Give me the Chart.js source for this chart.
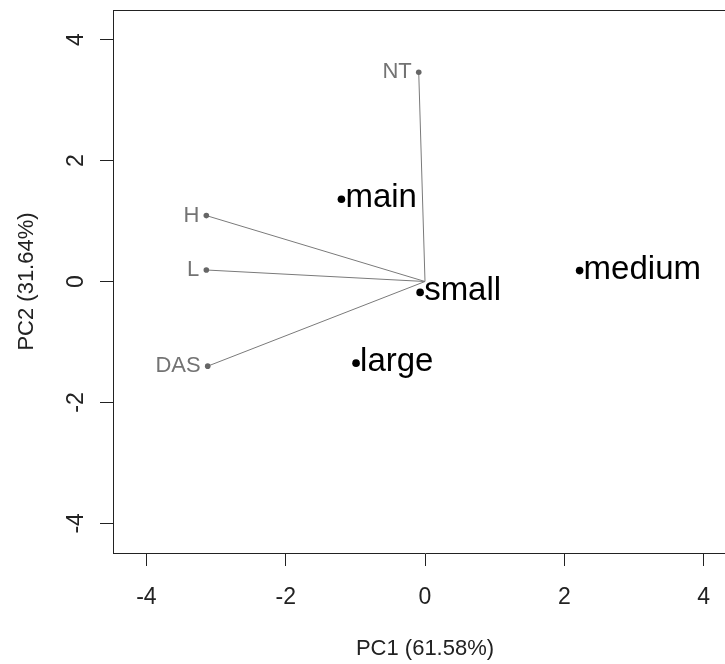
<!DOCTYPE html>
<html>
<head>
<meta charset="utf-8">
<title>PCA biplot</title>
<script src="https://cdn.jsdelivr.net/npm/chart.js@4/dist/chart.umd.min.js"></script>
<style>
  html, body { margin: 0; padding: 0; background: #fff; }
  #wrap { width: 725px; height: 664px; overflow: hidden; }
  #box { width: 760px; height: 664px; position: relative; }
</style>
</head>
<body>
<div id="wrap"><div id="box"><canvas id="biplot"></canvas></div></div>
<script>
// group scores
const groupNames = ['main', 'small', 'large', 'medium'];
const groupPC1 = [-1.20, -0.07, -0.99, 2.22];
const groupPC2 = [1.36, -0.18, -1.35, 0.18];

// variable loadings
const varNames = ['NT', 'H', 'L', 'DAS'];
const varPC1 = [-0.09, -3.14, -3.14, -3.12];
const varPC2 = [3.46, 1.09, 0.19, -1.40];

// axes
const xTicks = [-4, -2, 0, 2, 4];
const yTicks = [-4, -2, 0, 2, 4];
const xTitle = 'PC1 (61.58%)';
const yTitle = 'PC2 (31.64%)';

const FONT = '"Liberation Sans", Arial, sans-serif';
const AXIS = '#222';

// one line dataset per variable, from the origin to its loading
const arrowSets = varNames.map((name, i) => ({
    type: 'scatter',
    label: name + ' arrow',
    data: [{ x: 0, y: 0 }, { x: varPC1[i], y: varPC2[i] }],
    showLine: true,
    borderColor: '#7a7a7a',
    borderWidth: 1,
    pointRadius: 0,
    order: 3
}));

// draws the top edge of the box (R style frame)
const frame = {
    id: 'frame',
    afterDraw(chart) {
        const { ctx, chartArea: a } = chart;
        ctx.save();
        ctx.strokeStyle = AXIS;
        ctx.lineWidth = 1;
        ctx.beginPath();
        ctx.moveTo(a.left, a.top + 0.5);
        ctx.lineTo(a.right, a.top + 0.5);
        ctx.moveTo(a.right - 0.5, a.top);
        ctx.lineTo(a.right - 0.5, a.bottom);
        ctx.stroke();
        ctx.restore();
    }
};

// text labels next to the points
const pointLabels = {
    id: 'pointLabels',
    afterDatasetsDraw(chart) {
        const ctx = chart.ctx;
        ctx.save();
        ctx.textBaseline = 'middle';

        const groupMeta = chart.getDatasetMeta(0);
        ctx.font = '33px ' + FONT;
        ctx.fillStyle = '#000';
        ctx.textAlign = 'left';
        groupMeta.data.forEach((pt, i) => {
            ctx.fillText(groupNames[i], pt.x + 4, pt.y - 1);
        });

        const varMeta = chart.getDatasetMeta(1);
        ctx.font = '22px ' + FONT;
        ctx.fillStyle = '#737373';
        ctx.textAlign = 'right';
        varMeta.data.forEach((pt, i) => {
            ctx.fillText(varNames[i], pt.x - 7, pt.y);
        });
        ctx.restore();
    }
};

new Chart(document.getElementById('biplot'), {
    type: 'scatter',
    data: {
        datasets: [
            {
                label: 'groups',
                data: groupPC1.map((x, i) => ({ x: x, y: groupPC2[i] })),
                backgroundColor: '#000',
                borderWidth: 0,
                pointRadius: 3.8,
                order: 1
            },
            {
                label: 'variables',
                data: varPC1.map((x, i) => ({ x: x, y: varPC2[i] })),
                backgroundColor: '#666',
                borderWidth: 0,
                pointRadius: 2.8,
                order: 2
            },
            ...arrowSets
        ]
    },
    options: {
        responsive: true,
        maintainAspectRatio: false,
        animation: false,
        events: [],
        layout: { padding: { top: 10, right: 23, left: 0, bottom: 0 } },
        plugins: {
            legend: { display: false },
            tooltip: { enabled: false }
        },
        scales: {
            x: {
                type: 'linear',
                min: -4.48,
                max: 4.48,
                afterBuildTicks: scale => { scale.ticks = xTicks.map(v => ({ value: v })); },
                afterFit: scale => {
                    scale.height = 111;
                    scale.paddingLeft = 0;
                    scale.paddingRight = 0;
                },
                grid: { display: true, drawOnChartArea: false, drawTicks: true, tickLength: 13, color: AXIS },
                border: { display: true, color: AXIS, width: 1 },
                ticks: {
                    color: AXIS,
                    font: { family: FONT, size: 23 },
                    padding: 18,
                    maxRotation: 0,
                    callback: v => String(v)
                },
                title: {
                    display: true,
                    text: xTitle,
                    color: AXIS,
                    font: { family: FONT, size: 22 },
                    padding: { top: 0, bottom: 2 }
                }
            },
            y: {
                type: 'linear',
                min: -4.49,
                max: 4.49,
                afterBuildTicks: scale => { scale.ticks = yTicks.map(v => ({ value: v })); },
                afterFit: scale => {
                    scale.width = 113;
                    scale.paddingTop = 0;
                    scale.paddingBottom = 0;
                },
                grid: { display: true, drawOnChartArea: false, drawTicks: true, tickLength: 13, color: AXIS },
                border: { display: true, color: AXIS, width: 1 },
                ticks: {
                    color: AXIS,
                    font: { family: FONT, size: 23 },
                    padding: 13,
                    minRotation: 90,
                    maxRotation: 90,
                    crossAlign: 'center',
                    callback: v => String(v)
                },
                title: {
                    display: true,
                    text: yTitle,
                    color: AXIS,
                    font: { family: FONT, size: 22 },
                    padding: { top: 14, bottom: 0 }
                }
            }
        }
    },
    plugins: [frame, pointLabels]
});
</script>
</body>
</html>
